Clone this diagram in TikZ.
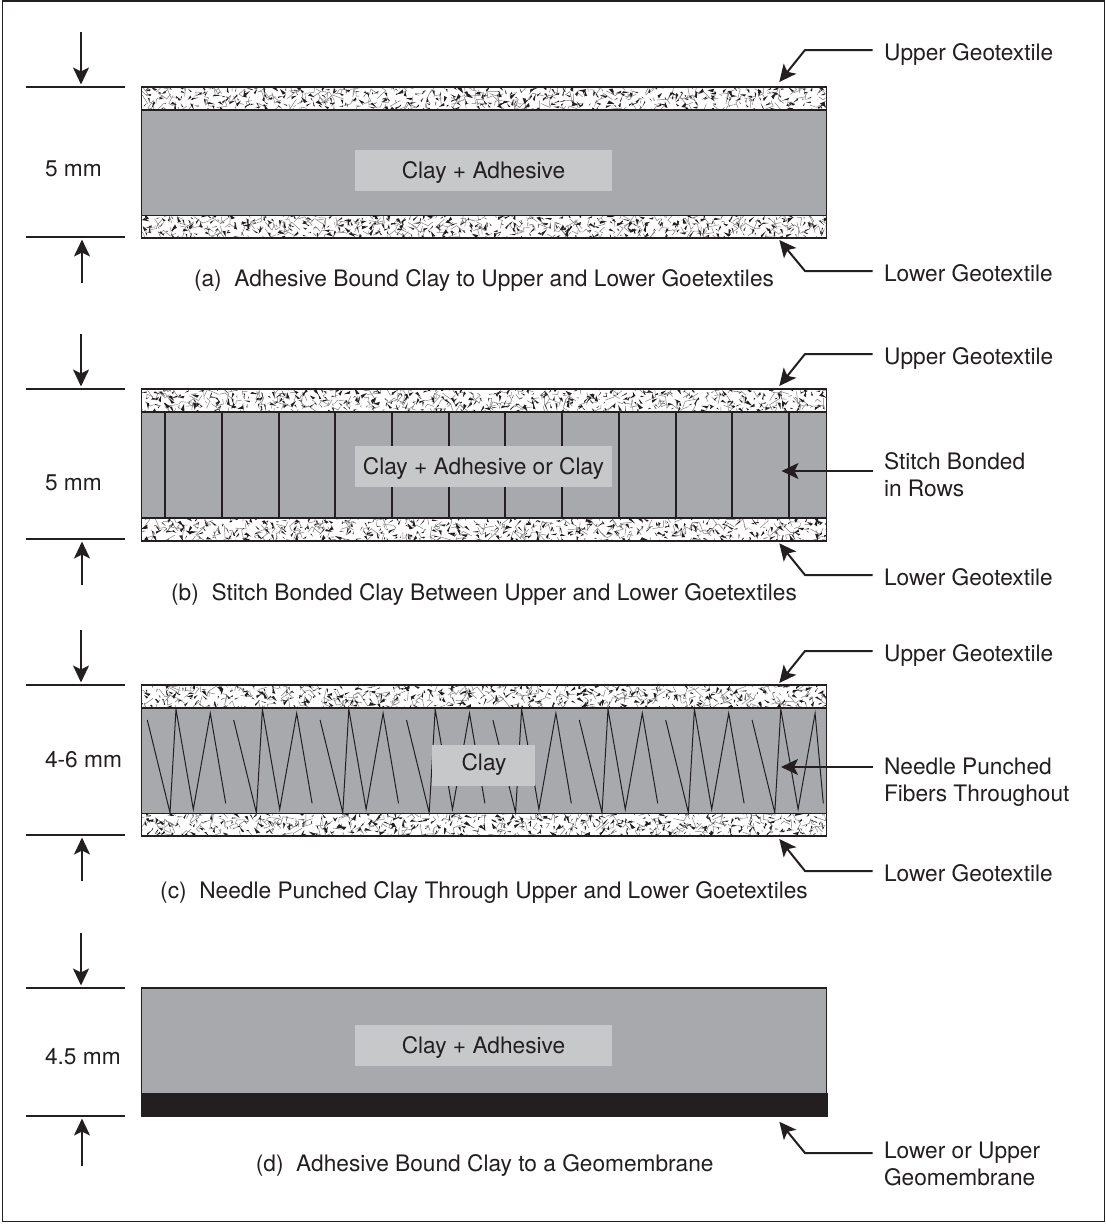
\documentclass[tikz,border=0pt]{standalone}
\usepackage{fontspec}
\setmainfont{TeX Gyre Heros}
\usetikzlibrary{arrows.meta}
\definecolor{ink}{HTML}{231F20}
\definecolor{claygray}{HTML}{A7A9AC}
\definecolor{labelgray}{HTML}{C7C8CA}
\tikzset{
  x=1pt,y=-1pt,
  txt/.style={inner sep=0pt,outer sep=0pt,text=ink,font=\fontsize{22.7}{27.2}\selectfont},
  rtxt/.style={txt,anchor=base west},
  mtxt/.style={txt,anchor=west,align=left},
  ctxt/.style={txt,anchor=base},
  tick/.style={draw=ink,line width=2pt},
  lead/.style={draw=ink,line width=2pt,line join=miter,-{Stealth[length=17pt,width=16pt,inset=4pt]}},
  layer/.style={draw=ink,line width=1.9pt},
  needle/.style={draw=ink,line width=1pt,line join=miter},
  stitch/.style={draw=ink,line width=2.2pt},
}
% band of fibres: y0, y1, seed
\newcommand{\geoband}[3]{%
  \fill[white] (141.5,#1) rectangle (826.5,#2);
  \begin{scope}
    \clip (141.5,#1) rectangle (826.5,#2);
    \pgfmathsetseed{#3}
    \foreach \c in {0,...,68}{
      \foreach \r in {0,1,2}{
        \pgfmathsetmacro{\px}{141.5+10*\c+rnd*10}
        \pgfmathsetmacro{\py}{#1+7.7*\r+rnd*7.7}
        \pgfmathsetmacro{\pa}{rnd*360}
        \pgfmathsetmacro{\pl}{5+rnd*7}
        \pgfmathsetmacro{\pb}{\pa+50+rnd*70}
        \draw[gray,line width=0.5pt] (\px,\py) -- ++(\pa:\pl pt) -- ++(\pb:\pl*0.6 pt);
      }
    }
    \foreach \c in {0,...,97}{
      \foreach \r in {0,1,2,3}{
        \pgfmathsetmacro{\px}{141.5+7*\c+rnd*7}
        \pgfmathsetmacro{\py}{#1+5.75*\r+rnd*5.75}
        \pgfmathsetmacro{\pa}{rnd*360}
        \pgfmathsetmacro{\pl}{2.5+rnd*5.5}
        \pgfmathsetmacro{\pb}{\pa+148+rnd*24}
        \fill[ink] (\px,\py) -- ++(\pa:\pl pt) -- ++(\pb:\pl*0.85 pt) -- cycle;
      }
    }
  \end{scope}
}
% dimension: name, y top, y bottom, tail top, tail bottom
\newcommand{\dimset}[5]{%
  \coordinate (#1-tl) at (26,#2); \coordinate (#1-tr) at (125,#2);
  \coordinate (#1-bl) at (26,#3); \coordinate (#1-br) at (125,#3);
  \coordinate (#1-ds) at (81,#4); \coordinate (#1-dt) at (81,#2-2.5);
  \coordinate (#1-us) at (82,#5); \coordinate (#1-ut) at (82,#3+2.5);
  \draw[tick] (#1-tl) -- (#1-tr);
  \draw[tick] (#1-bl) -- (#1-br);
  \draw[lead] (#1-ds) -- (#1-dt);
  \draw[lead] (#1-us) -- (#1-ut);
}
% elbow leader: name, y of level run, y of tip
\newcommand{\elbow}[3]{%
  \coordinate (#1-s) at (872.5,#2);
  \coordinate (#1-c) at (805,#2);
  \coordinate (#1-t) at (779.3,#3);
  \draw[lead] (#1-s) -- (#1-c) -- (#1-t);
}
\begin{document}
\begin{tikzpicture}
\useasboundingbox (0,0) rectangle (1106,1224);
\fill[white] (0,0) rectangle (1106,1224);
\draw[draw=ink,line width=1.1pt] (2.5,1) rectangle (1104.8,1221.5);

% ---------- panel a
\fill[claygray] (141.5,87) rectangle (826.5,238);
\geoband{87}{110}{11}
\geoband{215}{238}{12}
\draw[layer] (141.5,87) rectangle (826.5,238);
\draw[layer] (141.5,110) -- (826.5,110);
\draw[layer] (141.5,215.5) -- (826.5,215.5);
\fill[labelgray] (355,150) rectangle (612,191);
\node[ctxt] (la) at (483.5,178) {Clay + Adhesive};
\dimset{da}{87}{237}{32}{283}
\node[rtxt] (ma) at (45,176) {5 mm};
\node[rtxt] (ua) at (884,60.2) {Upper Geotextile};
\node[rtxt] (wa) at (884,281.2) {Lower Geotextile};
\elbow{ea}{50}{82}
\elbow{fa}{271}{240}
\node[ctxt] (ca) at (484,286) {(a)\ \ Adhesive Bound Clay to Upper and Lower Goetextiles};

% ---------- panel b
\fill[claygray] (141.5,389) rectangle (826.5,541);
\geoband{389}{412}{21}
\geoband{518}{541}{22}
\foreach \sx in {165,222,279,335,392,449,505,562,619,676,732,789}{
  \draw[stitch] (\sx,412) -- (\sx,518);
}
\draw[layer] (141.5,389) rectangle (826.5,541);
\draw[layer] (141.5,412) -- (826.5,412);
\draw[layer] (141.5,518) -- (826.5,518);
\fill[labelgray] (355,446) rectangle (612,487);
\node[ctxt] (lb) at (483.5,474) {Clay + Adhesive or Clay};
\dimset{db}{389}{539}{334}{585}
\node[rtxt] (mb) at (45,490) {5 mm};
\node[rtxt] (ub) at (884,364.2) {Upper Geotextile};
\node[mtxt] (sb) at (884,474.5) {Stitch Bonded\\in Rows};
\node[rtxt] (wb) at (884,585.2) {Lower Geotextile};
\elbow{eb}{354}{386}
\elbow{fb}{575}{543.3}
\coordinate (sbs) at (872.5,471);
\coordinate (sbt) at (781.5,471);
\draw[lead] (sbs) -- (sbt);
\node[ctxt] (cb) at (484,600) {(b)\ \ Stitch Bonded Clay Between Upper and Lower Goetextiles};

% ---------- panel c
\fill[claygray] (141.5,685) rectangle (826.5,836);
\geoband{685}{708}{31}
\geoband{813}{836}{32}
\foreach \k in {0,...,6}{
  \pgfmathsetmacro{\dx}{86.4*\k}
  \draw[needle,shift={(\dx,0)}] (147.3,720) -- (170,812.7) -- (176,709.3) -- (193.3,809.3) -- (210.3,713.3) -- (225.7,803.3);
}
\draw[needle,shift={(604.8,0)}] (147.3,720) -- (170,812.7) -- (176,709.3) -- (193.3,809.3) -- (210.3,713.3) -- (218.5,803.3);
\draw[layer] (141.5,685) rectangle (826.5,836);
\draw[layer] (141.5,708) -- (826.5,708);
\draw[layer] (141.5,813.5) -- (826.5,813.5);
\fill[labelgray] (431.7,745) rectangle (535,785.7);
\node[ctxt] (lc) at (484,770.5) {Clay};
\dimset{dc}{685}{835}{630}{881}
\node[rtxt] (mc) at (45,767) {4-6 mm};
\node[rtxt] (uc) at (884,661.2) {Upper Geotextile};
\node[mtxt] (sc) at (884,782.2) {Needle Punched\\Fibers Throughout};
\node[rtxt] (wc) at (884,881.2) {Lower Geotextile};
\elbow{ec}{651}{683}
\elbow{fc}{871}{839}
\coordinate (scs) at (872.5,767);
\coordinate (sct) at (781,767);
\draw[lead] (scs) -- (sct);
\node[ctxt] (cc) at (484,898) {(c)\ \ Needle Punched Clay Through Upper and Lower Goetextiles};

% ---------- panel d
\fill[claygray] (141.5,988) rectangle (826.5,1116);
\draw[layer] (141.5,988) rectangle (826.5,1116);
\fill[ink] (140.5,1093) rectangle (827.5,1117);
\fill[labelgray] (355,1025) rectangle (612,1066);
\node[ctxt] (ld) at (483.5,1053) {Clay + Adhesive};
\dimset{dd}{988}{1116}{933}{1166}
\node[rtxt] (md) at (45,1064) {4.5 mm};
\node[mtxt] (sd) at (884,1164.2) {Lower or Upper\\Geomembrane};
\elbow{ed}{1153}{1121.7}
\node[ctxt] (cd) at (484.7,1171) {(d)\ \ Adhesive Bound Clay to a Geomembrane};
\end{tikzpicture}
\end{document}
